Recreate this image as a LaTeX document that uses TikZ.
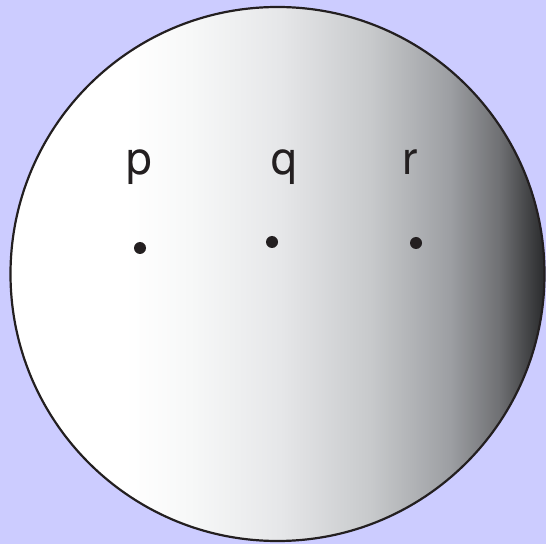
\documentclass[tikz,border=0pt]{standalone}
\usepackage{fontspec}
\setmainfont{TeX Gyre Heros}
\usetikzlibrary{positioning}
\definecolor{bglav}  {HTML}{CCCCFF}
\definecolor{rimdark}{HTML}{231F20}
\definecolor{g1}{HTML}{F7F8F8}
\definecolor{g2}{HTML}{E6E7E9}
\definecolor{g3}{HTML}{C8CACC}
\definecolor{g4}{HTML}{9D9FA3}
\definecolor{g5}{HTML}{6F7073}
\definecolor{g6}{HTML}{3A3B3D}
\definecolor{g7}{HTML}{2A2B2D}
\pgfdeclarehorizontalshading{globe}{100bp}{
  color(0bp)=(white); color(35.7bp)=(white);
  color(41.8bp)=(g1); color(50.2bp)=(g2);
  color(58.6bp)=(g3); color(66.1bp)=(g4);
  color(70.8bp)=(g5); color(74bp)=(g6);
  color(75bp)=(g7); color(100bp)=(g7)}

\begin{document}
\begin{tikzpicture}[x=1pt, y=1pt,
      pt/.style={circle, fill=rimdark, inner sep=0pt, minimum size=12pt},
      lbl/.style={font=\fontsize{46}{46}\selectfont, text=rimdark, anchor=base},
    ]
      \fill[bglav] (0,0) rectangle (546,544);
      \useasboundingbox (0,0) rectangle (546,544);

      \path[shading=globe, draw=rimdark, line width=2.2pt]
        (277.5,270) circle[radius=267];

      \node[pt] (dp) at (140,296) {};
      \node[pt] (dq) at (272,302) {};
      \node[pt] (dr) at (416,301) {};

      \node[lbl] (lp) at (139,369) {p};
      \node[lbl] (lq) at (284,369) {q};
      \node[lbl] (lr) at (410,369) {r};
    \end{tikzpicture}
\end{document}
